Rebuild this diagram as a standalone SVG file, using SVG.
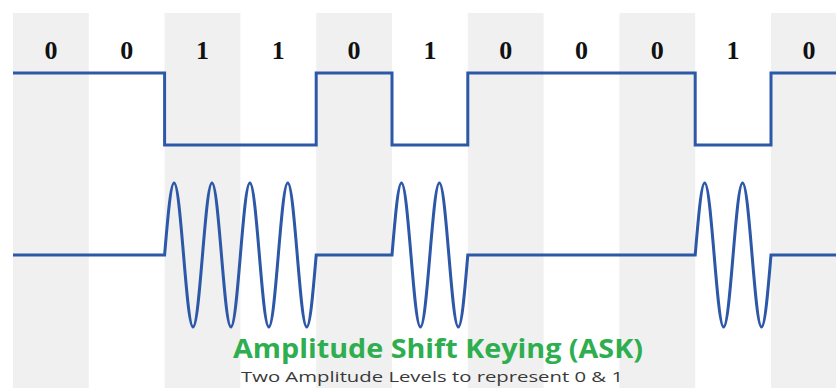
<svg xmlns="http://www.w3.org/2000/svg" width="836" height="388" viewBox="0 0 836 388">
<style>
.band{fill:#f0f0f0}
.bit{font-family:"Liberation Serif",serif;font-weight:bold;font-size:26px;fill:#111;text-anchor:middle}
.sig{fill:none;stroke:#2d58a8;stroke-width:3;stroke-linejoin:miter}
.title{font-family:"Open Sans",sans-serif;font-weight:bold;font-size:27px;fill:#2eae4e}
.sub{font-family:"Open Sans",sans-serif;font-size:15px;fill:#3a3a3a}
</style>
<rect width="836" height="388" fill="#ffffff"/>
<g id="bands">
<rect class="band" x="13" y="13" width="75.8" height="375"/>
<rect class="band" x="164.6" y="13" width="75.8" height="375"/>
<rect class="band" x="316.2" y="13" width="75.8" height="375"/>
<rect class="band" x="467.8" y="13" width="75.8" height="375"/>
<rect class="band" x="619.4" y="13" width="75.8" height="375"/>
<rect class="band" x="771" y="13" width="75.8" height="375"/>
</g>
<g id="bits">
<text class="bit" x="50.9" y="59">0</text>
<text class="bit" x="126.7" y="59">0</text>
<text class="bit" x="202.5" y="59">1</text>
<text class="bit" x="278.3" y="59">1</text>
<text class="bit" x="354.1" y="59">0</text>
<text class="bit" x="429.9" y="59">1</text>
<text class="bit" x="505.7" y="59">0</text>
<text class="bit" x="581.5" y="59">0</text>
<text class="bit" x="657.3" y="59">0</text>
<text class="bit" x="733.1" y="59">1</text>
<text class="bit" x="808.9" y="59">0</text>
</g>
<g id="digital">
<path class="sig" d="M13,73 H164.6 V145 H316.2 V73 H392 V145 H467.8 V73 H695.2 V145 H771 V73 H836"/>
</g>
<g id="ask">
<path class="sig" d="M13,255 H164.6
c 3.09,-36.88 6.046,-72 9.475,-72 s 6.385,35.12 9.475,72 s 6.046,72 9.475,72 s 6.385,-35.12 9.475,-72
s 6.046,-72 9.475,-72 s 6.385,35.12 9.475,72 s 6.046,72 9.475,72 s 6.385,-35.12 9.475,-72
s 6.046,-72 9.475,-72 s 6.385,35.12 9.475,72 s 6.046,72 9.475,72 s 6.385,-35.12 9.475,-72
s 6.046,-72 9.475,-72 s 6.385,35.12 9.475,72 s 6.046,72 9.475,72 s 6.385,-35.12 9.475,-72
H392
c 3.09,-36.88 6.046,-72 9.475,-72 s 6.385,35.12 9.475,72 s 6.046,72 9.475,72 s 6.385,-35.12 9.475,-72
s 6.046,-72 9.475,-72 s 6.385,35.12 9.475,72 s 6.046,72 9.475,72 s 6.385,-35.12 9.475,-72
H695.2
c 3.09,-36.88 6.046,-72 9.475,-72 s 6.385,35.12 9.475,72 s 6.046,72 9.475,72 s 6.385,-35.12 9.475,-72
s 6.046,-72 9.475,-72 s 6.385,35.12 9.475,72 s 6.046,72 9.475,72 s 6.385,-35.12 9.475,-72
H836"/>
</g>
<g id="caption">
<text class="title" x="233" y="358" textLength="410" lengthAdjust="spacingAndGlyphs">Amplitude Shift Keying (ASK)</text>
<text class="sub" x="241" y="382" textLength="382" lengthAdjust="spacingAndGlyphs">Two Amplitude Levels to represent 0 &amp; 1</text>
</g>
</svg>
